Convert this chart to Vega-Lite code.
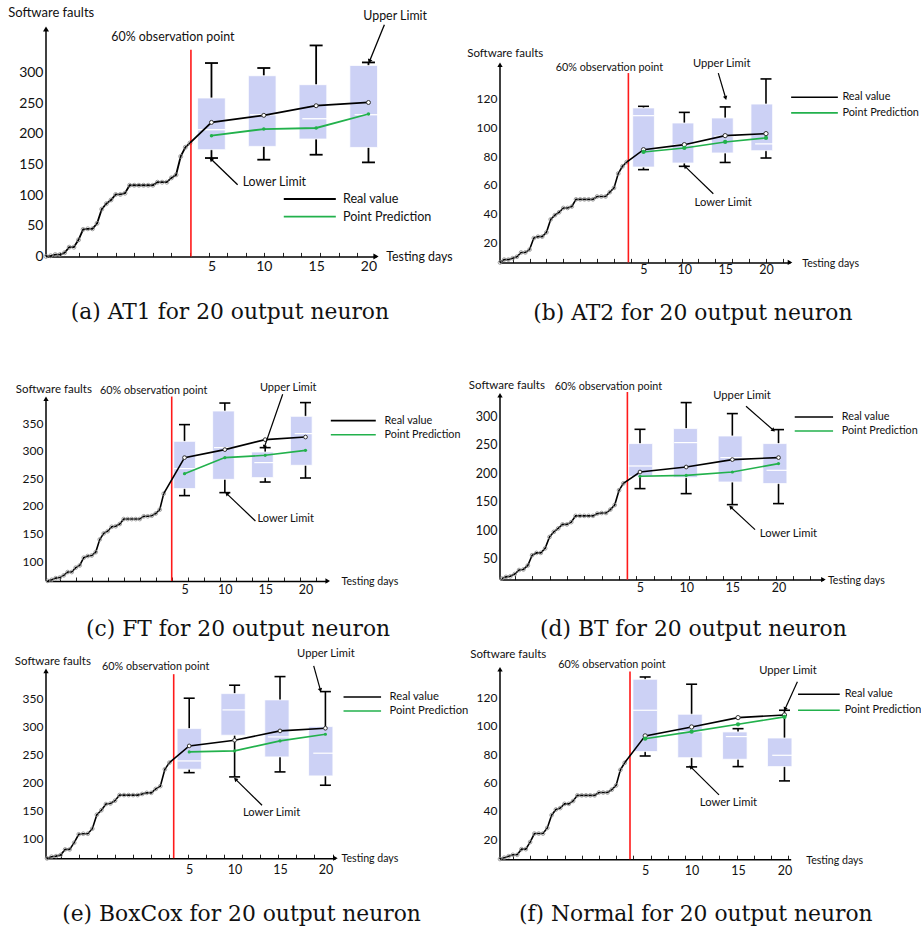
{
  "$schema": "https://vega.github.io/schema/vega-lite/v6.json",
  "background": "white",
  "padding": {"left": 7, "top": 6, "right": 5, "bottom": 5},
  "datasets": {
    "a_hist": [{"obs":1,"faults":0},{"obs":2,"faults":1},{"obs":3,"faults":3},{"obs":4,"faults":3},{"obs":5,"faults":6},{"obs":6,"faults":15},{"obs":7,"faults":15},{"obs":8,"faults":27},{"obs":9,"faults":44},{"obs":10,"faults":45},{"obs":11,"faults":45},{"obs":12,"faults":54},{"obs":13,"faults":77},{"obs":14,"faults":86},{"obs":15,"faults":92},{"obs":16,"faults":101},{"obs":17,"faults":101},{"obs":18,"faults":103},{"obs":19,"faults":116},{"obs":20,"faults":116},{"obs":21,"faults":116},{"obs":22,"faults":116},{"obs":23,"faults":116},{"obs":24,"faults":116},{"obs":25,"faults":121},{"obs":26,"faults":121},{"obs":27,"faults":121},{"obs":28,"faults":128},{"obs":29,"faults":133},{"obs":30,"faults":163},{"obs":31,"faults":178},{"obs":32,"faults":185}],
    "a_fc": [{"day":2.95,"real":185},{"day":5,"real":218.5,"pred":196.8,"lo":160.4,"q1":174,"med":206.6,"q3":258.3,"hi":315.3},{"day":10,"real":230,"pred":207.7,"lo":157.7,"q1":179.4,"med":231,"q3":294.6,"hi":307.2},{"day":15,"real":245.7,"pred":209.4,"lo":165.8,"q1":191.4,"med":224.5,"q3":280,"hi":344},{"day":20,"real":251,"pred":232.2,"lo":153.3,"q1":177.7,"med":231,"q3":311.4,"hi":316.3}],
    "a_note": [{"label":"Upper Limit","tx":22.55,"ty":392.5,"ax":21.52,"ay":377.8,"bx":20.09,"by":318},{"label":"Lower Limit","tx":11.01,"ty":120.7,"ax":7.5,"ay":116.9,"bx":4.95,"by":158.8}],
    "a_cut": [{"obs":32.2,"from":0,"to":337,"label":"60% observation point"}],
    "b_hist": [{"obs":1,"faults":6},{"obs":2,"faults":8},{"obs":3,"faults":8},{"obs":4,"faults":9},{"obs":5,"faults":10},{"obs":6,"faults":13},{"obs":7,"faults":13},{"obs":8,"faults":15},{"obs":9,"faults":23},{"obs":10,"faults":24},{"obs":11,"faults":24},{"obs":12,"faults":27},{"obs":13,"faults":36},{"obs":14,"faults":39},{"obs":15,"faults":41},{"obs":16,"faults":44},{"obs":17,"faults":44},{"obs":18,"faults":45},{"obs":19,"faults":50},{"obs":20,"faults":50},{"obs":21,"faults":50},{"obs":22,"faults":50},{"obs":23,"faults":50},{"obs":24,"faults":52},{"obs":25,"faults":52},{"obs":26,"faults":52},{"obs":27,"faults":55},{"obs":28,"faults":58},{"obs":29,"faults":68},{"obs":30,"faults":73},{"obs":31,"faults":76}],
    "b_fc": [{"day":2.94,"real":76},{"day":5,"real":84.6,"pred":83,"lo":70.7,"q1":72.5,"med":108.3,"q3":113.7,"hi":114.8},{"day":10,"real":88.1,"pred":85.8,"lo":73,"q1":75.3,"med":88,"q3":103.2,"hi":110.6},{"day":15,"real":94.4,"pred":90,"lo":75.7,"q1":82.3,"med":94,"q3":106.7,"hi":114.4},{"day":20,"real":95.8,"pred":92.8,"lo":78.8,"q1":83.9,"med":88.6,"q3":116.4,"hi":133.9}],
    "b_note": [{"label":"Upper Limit","tx":14.57,"ty":144.5,"ax":14.16,"ay":138,"bx":15.06,"by":120.6},{"label":"Lower Limit","tx":14.76,"ty":47.5,"ax":13.55,"ay":53.9,"bx":10.08,"by":73}],
    "b_cut": [{"obs":31.4,"from":6.06,"to":138,"label":"60% observation point"}],
    "c_hist": [{"obs":1,"faults":64},{"obs":2,"faults":66},{"obs":3,"faults":69},{"obs":4,"faults":70},{"obs":5,"faults":74},{"obs":6,"faults":80},{"obs":7,"faults":80},{"obs":8,"faults":88},{"obs":9,"faults":92},{"obs":10,"faults":106},{"obs":11,"faults":109},{"obs":12,"faults":110},{"obs":13,"faults":116},{"obs":14,"faults":139},{"obs":15,"faults":150},{"obs":16,"faults":154},{"obs":17,"faults":162},{"obs":18,"faults":163},{"obs":19,"faults":167},{"obs":20,"faults":176},{"obs":21,"faults":176},{"obs":22,"faults":176},{"obs":23,"faults":176},{"obs":24,"faults":176},{"obs":25,"faults":181},{"obs":26,"faults":181},{"obs":27,"faults":182},{"obs":28,"faults":186},{"obs":29,"faults":193},{"obs":30,"faults":222}],
    "c_fc": [{"day":2.42,"real":222},{"day":5,"real":287.3,"pred":258.3,"lo":218.5,"q1":231.2,"med":267.4,"q3":316.8,"hi":347.1},{"day":10,"real":301.8,"pred":287.3,"lo":223.9,"q1":248,"med":305.4,"q3":371.7,"hi":386.2},{"day":15,"real":319.9,"pred":291.5,"lo":243.1,"q1":251.1,"med":278.3,"q3":297.5,"hi":305.4},{"day":20,"real":324.6,"pred":300.5,"lo":250.4,"q1":273.4,"med":330.8,"q3":362.1,"hi":387}],
    "c_note": [{"label":"Upper Limit","tx":17.85,"ty":414,"ax":17.17,"ay":402,"bx":14.9,"by":306.5},{"label":"Lower Limit","tx":17.55,"ty":175.5,"ax":13.79,"ay":172.5,"bx":10.23,"by":222.1}],
    "c_cut": [{"obs":32,"from":63.8,"to":398,"label":"60% observation point"}],
    "d_hist": [{"obs":1,"faults":15},{"obs":2,"faults":18},{"obs":3,"faults":19},{"obs":4,"faults":23},{"obs":5,"faults":30},{"obs":6,"faults":31},{"obs":7,"faults":38},{"obs":8,"faults":56},{"obs":9,"faults":60},{"obs":10,"faults":60},{"obs":11,"faults":68},{"obs":12,"faults":88},{"obs":13,"faults":97},{"obs":14,"faults":103},{"obs":15,"faults":110},{"obs":16,"faults":110},{"obs":17,"faults":114},{"obs":18,"faults":125},{"obs":19,"faults":125},{"obs":20,"faults":125},{"obs":21,"faults":125},{"obs":22,"faults":125},{"obs":23,"faults":129},{"obs":24,"faults":130},{"obs":25,"faults":130},{"obs":26,"faults":136},{"obs":27,"faults":144},{"obs":28,"faults":170},{"obs":29,"faults":182}],
    "d_fc": [{"day":3.2,"real":182},{"day":5,"real":201.9,"pred":194.4,"lo":172.8,"q1":194.4,"med":212.5,"q3":251.8,"hi":276.8},{"day":10,"real":210.7,"pred":196,"lo":164,"q1":192.1,"med":253.5,"q3":278.1,"hi":323.7},{"day":15,"real":223.7,"pred":201.9,"lo":144.7,"q1":184.4,"med":227.2,"q3":265.1,"hi":304.4},{"day":20,"real":227.2,"pred":216.7,"lo":146.5,"q1":181.6,"med":204.9,"q3":251.8,"hi":276.3}],
    "d_note": [{"label":"Upper Limit","tx":16.05,"ty":334.7,"ax":16.48,"ay":317.2,"bx":19.45,"by":275.1},{"label":"Lower Limit","tx":21.08,"ty":93.9,"ax":17.46,"ay":100.9,"bx":14.82,"by":140.5}],
    "d_cut": [{"obs":29.92,"from":13.2,"to":342.3,"label":"60% observation point"}],
    "e_hist": [{"obs":1,"faults":64},{"obs":2,"faults":67},{"obs":3,"faults":68},{"obs":4,"faults":70},{"obs":5,"faults":80},{"obs":6,"faults":80},{"obs":7,"faults":92},{"obs":8,"faults":107},{"obs":9,"faults":108},{"obs":10,"faults":108},{"obs":11,"faults":117},{"obs":12,"faults":142},{"obs":13,"faults":150},{"obs":14,"faults":161},{"obs":15,"faults":162},{"obs":16,"faults":167},{"obs":17,"faults":177},{"obs":18,"faults":177},{"obs":19,"faults":177},{"obs":20,"faults":177},{"obs":21,"faults":177},{"obs":22,"faults":179},{"obs":23,"faults":181},{"obs":24,"faults":181},{"obs":25,"faults":188},{"obs":26,"faults":193},{"obs":27,"faults":223},{"obs":28,"faults":235}],
    "e_fc": [{"day":2.82,"real":235},{"day":5,"real":264.8,"pred":254.1,"lo":217.1,"q1":223.2,"med":238,"q3":295.7,"hi":350},{"day":10,"real":275,"pred":255.9,"lo":209.5,"q1":283.9,"med":329.1,"q3":358.2,"hi":373.2},{"day":15,"real":291.6,"pred":273.8,"lo":218.4,"q1":245.2,"med":280.9,"q3":347,"hi":388.6},{"day":20,"real":296.4,"pred":285.7,"lo":194.6,"q1":211.3,"med":251.8,"q3":299.3,"hi":361.8}],
    "e_note": [{"label":"Upper Limit","tx":20.05,"ty":428.6,"ax":18.71,"ay":407.7,"bx":19.45,"by":364.3},{"label":"Lower Limit","tx":14.07,"ty":144.6,"ax":13.02,"ay":158.9,"bx":10.09,"by":205.4}],
    "e_cut": [{"obs":28.95,"from":64.3,"to":392.9,"label":"60% observation point"}],
    "f_hist": [{"obs":1,"faults":6},{"obs":2,"faults":7},{"obs":3,"faults":8},{"obs":4,"faults":9},{"obs":5,"faults":9},{"obs":6,"faults":13},{"obs":7,"faults":13},{"obs":8,"faults":18},{"obs":9,"faults":24},{"obs":10,"faults":24},{"obs":11,"faults":24},{"obs":12,"faults":28},{"obs":13,"faults":37},{"obs":14,"faults":41},{"obs":15,"faults":42},{"obs":16,"faults":45},{"obs":17,"faults":45},{"obs":18,"faults":47},{"obs":19,"faults":51},{"obs":20,"faults":51},{"obs":21,"faults":51},{"obs":22,"faults":51},{"obs":23,"faults":51},{"obs":24,"faults":53},{"obs":25,"faults":53},{"obs":26,"faults":53},{"obs":27,"faults":55},{"obs":28,"faults":58},{"obs":29,"faults":69},{"obs":30,"faults":74}],
    "f_fc": [{"day":2.79,"real":74},{"day":5,"real":93,"pred":91,"lo":78.8,"q1":81.9,"med":111.1,"q3":133,"hi":134.6},{"day":10,"real":99.3,"pred":96,"lo":71.1,"q1":77.6,"med":96,"q3":108.3,"hi":129.5},{"day":15,"real":105.9,"pred":101.2,"lo":71.3,"q1":76.5,"med":92.5,"q3":95.8,"hi":98.1},{"day":20,"real":107.8,"pred":106.4,"lo":61.2,"q1":71.3,"med":79.3,"q3":91.5,"hi":111.1}],
    "f_note": [{"label":"Upper Limit","tx":20.38,"ty":138.9,"ax":21.39,"ay":131.3,"bx":20.05,"by":111.8},{"label":"Lower Limit","tx":13.97,"ty":45.4,"ax":12.95,"ay":51.3,"bx":9.9,"by":71.1}],
    "f_cut": [{"obs":31.23,"from":5.9,"to":138.4,"label":"60% observation point"}]
  },
  "columns": 2,
  "spacing": {"row": 87.6, "column": 124},
  "bounds": "flush",
  "align": "each",
  "resolve": {"scale": {"x": "independent", "y": "independent", "color": "independent"}, "axis": {"x": "independent", "y": "independent"}, "legend": {"color": "independent"}},
  "concat": [
    {
      "width": 330, "height": 227.4,
      "title": {"text": "(a) AT1 for 20 output neuron", "orient": "bottom", "offset": 29, "frame": "bounds"},
      "resolve": {"scale": {"x": "independent"}, "axis": {"x": "independent", "y": "independent"}},
      "layer": [
        {"data": {"values": [{}]}, "mark": {"type": "rule", "color": "#000000", "strokeWidth": 1.5},
         "encoding": {"x": {"datum": 1, "type": "quantitative", "scale": {"domain": [1, 72.04], "nice": false, "zero": false}, "axis": null},
                      "y": {"datum": 0, "type": "quantitative", "scale": {"domain": [0, 370.8], "nice": false, "zero": false}, "axis": null},
                      "y2": {"datum": 370.8}}},
        {"data": {"name": "a_hist"}, "mark": {"type": "line", "color": "#000000", "strokeWidth": 1.8},
         "encoding": {"x": {"field": "obs", "type": "quantitative", "scale": {"domain": [1, 72.04], "nice": false, "zero": false},
                            "axis": {"orient": "bottom", "values": [4,8,12,16,20,24,28,32,36,40,44,48,52,56,60,64,68], "labels": false, "ticks": true, "tickSize": -4, "title": null}},
                      "y": {"field": "faults", "type": "quantitative", "scale": {"domain": [0, 370.8], "nice": false, "zero": false},
                            "axis": {"orient": "left", "values": [0,50,100,150,200,250,300], "domain": false, "labelFontSize": 14, "title": "Software faults", "titleFontSize": 13, "titleX": -38.3, "titleY": -16.3}}}},
        {"data": {"name": "a_hist"}, "mark": {"type": "point", "shape": "circle", "size": 16, "filled": false, "stroke": "#8a8a8a", "strokeWidth": 0.8, "opacity": 1},
         "encoding": {"x": {"field": "obs", "type": "quantitative", "scale": {"domain": [1, 72.04], "nice": false, "zero": false}, "axis": null},
                      "y": {"field": "faults", "type": "quantitative", "scale": {"domain": [0, 370.8], "nice": false, "zero": false}, "axis": null}}},
        {"data": {"name": "a_cut"}, "mark": {"type": "rule", "color": "#ff1a1a", "strokeWidth": 1.6},
         "encoding": {"x": {"field": "obs", "type": "quantitative", "scale": {"domain": [1, 72.04], "nice": false, "zero": false}, "axis": null},
                      "y": {"field": "to", "type": "quantitative", "scale": {"domain": [0, 370.8], "nice": false, "zero": false}, "axis": null},
                      "y2": {"field": "from"}}},
        {"data": {"name": "a_cut"}, "mark": {"type": "text", "dx": -18, "dy": -13, "fontSize": 12.4},
         "encoding": {"x": {"field": "obs", "type": "quantitative", "scale": {"domain": [1, 72.04], "nice": false, "zero": false}, "axis": null},
                      "y": {"field": "to", "type": "quantitative", "scale": {"domain": [0, 370.8], "nice": false, "zero": false}, "axis": null},
                      "text": {"field": "label"}}},
        {"data": {"values": [{}]}, "mark": {"type": "point", "shape": "triangle-up", "filled": true, "color": "#000000", "size": 36, "opacity": 1},
         "encoding": {"x": {"datum": 1, "type": "quantitative", "scale": {"domain": [1, 72.04], "nice": false, "zero": false}, "axis": null},
                      "y": {"datum": 370.8, "type": "quantitative", "scale": {"domain": [0, 370.8], "nice": false, "zero": false}, "axis": null}}},
        {"data": {"values": [{}]}, "mark": {"type": "point", "shape": "triangle-right", "filled": true, "color": "#000000", "size": 36, "opacity": 1},
         "encoding": {"x": {"datum": 72.04, "type": "quantitative", "scale": {"domain": [1, 72.04], "nice": false, "zero": false}, "axis": null},
                      "y": {"datum": 0, "type": "quantitative", "scale": {"domain": [0, 370.8], "nice": false, "zero": false}, "axis": null}}},
        {"data": {"name": "a_fc"}, "transform": [{"filter": "isValid(datum.q1)"}], "mark": {"type": "rule", "color": "#000000", "strokeWidth": 1.8},
         "encoding": {"x": {"field": "day", "type": "quantitative", "scale": {"domain": [-10.81, 20.72], "nice": false, "zero": false},
                            "axis": {"orient": "bottom", "values": [5,10,15,20], "domain": false, "ticks": false, "labelFontSize": 14, "labelPadding": 3, "title": "Testing days", "titleFontSize": 12.4, "titleX": 339.7, "titleY": 0}},
                      "y": {"field": "lo", "type": "quantitative", "scale": {"domain": [0, 370.8], "nice": false, "zero": false}, "axis": null},
                      "y2": {"field": "hi"}}},
        {"data": {"name": "a_fc"}, "transform": [{"filter": "isValid(datum.q1)"}], "mark": {"type": "tick", "orient": "horizontal", "color": "#000000", "thickness": 1.8, "size": 13, "opacity": 1},
         "encoding": {"x": {"field": "day", "type": "quantitative", "scale": {"domain": [-10.81, 20.72], "nice": false, "zero": false}, "axis": null},
                      "y": {"field": "hi", "type": "quantitative", "scale": {"domain": [0, 370.8], "nice": false, "zero": false}, "axis": null}}},
        {"data": {"name": "a_fc"}, "transform": [{"filter": "isValid(datum.q1)"}], "mark": {"type": "tick", "orient": "horizontal", "color": "#000000", "thickness": 1.8, "size": 13, "opacity": 1},
         "encoding": {"x": {"field": "day", "type": "quantitative", "scale": {"domain": [-10.81, 20.72], "nice": false, "zero": false}, "axis": null},
                      "y": {"field": "lo", "type": "quantitative", "scale": {"domain": [0, 370.8], "nice": false, "zero": false}, "axis": null}}},
        {"data": {"name": "a_fc"}, "transform": [{"filter": "isValid(datum.q1)"}], "mark": {"type": "bar", "size": 27.7, "color": "#ccd1f5", "stroke": "#ffffff", "strokeWidth": 0.8, "opacity": 1},
         "encoding": {"x": {"field": "day", "type": "quantitative", "scale": {"domain": [-10.81, 20.72], "nice": false, "zero": false}, "axis": null},
                      "y": {"field": "q1", "type": "quantitative", "scale": {"domain": [0, 370.8], "nice": false, "zero": false}, "axis": null},
                      "y2": {"field": "q3"}}},
        {"data": {"name": "a_fc"}, "transform": [{"filter": "isValid(datum.q1)"}], "mark": {"type": "tick", "orient": "horizontal", "color": "#ffffff", "thickness": 1.3, "size": 27.7, "opacity": 1},
         "encoding": {"x": {"field": "day", "type": "quantitative", "scale": {"domain": [-10.81, 20.72], "nice": false, "zero": false}, "axis": null},
                      "y": {"field": "med", "type": "quantitative", "scale": {"domain": [0, 370.8], "nice": false, "zero": false}, "axis": null}}},
        {"data": {"name": "a_fc"}, "mark": {"type": "line", "strokeWidth": 1.8},
         "encoding": {"x": {"field": "day", "type": "quantitative", "scale": {"domain": [-10.81, 20.72], "nice": false, "zero": false}, "axis": null},
                      "y": {"field": "real", "type": "quantitative", "scale": {"domain": [0, 370.8], "nice": false, "zero": false}, "axis": null},
                      "color": {"datum": "Real value", "scale": {"domain": ["Real value", "Point Prediction"], "range": ["#000000", "#22b14c"]},
                                "legend": {"orient": "none", "legendX": 255.3, "legendY": 161.5, "title": null, "symbolType": "M-3.5,0H3.5", "symbolSize": 221, "symbolStrokeWidth": 1.8, "labelFontSize": 12.6, "labelOffset": 24.6, "rowPadding": 1.7}}}},
        {"data": {"name": "a_fc"}, "transform": [{"filter": "isValid(datum.q1)"}], "mark": {"type": "line", "strokeWidth": 1.8},
         "encoding": {"x": {"field": "day", "type": "quantitative", "scale": {"domain": [-10.81, 20.72], "nice": false, "zero": false}, "axis": null},
                      "y": {"field": "pred", "type": "quantitative", "scale": {"domain": [0, 370.8], "nice": false, "zero": false}, "axis": null},
                      "color": {"datum": "Point Prediction", "scale": {"domain": ["Real value", "Point Prediction"], "range": ["#000000", "#22b14c"]},
                                "legend": {"orient": "none", "legendX": 255.3, "legendY": 161.5, "title": null, "symbolType": "M-3.5,0H3.5", "symbolSize": 221, "symbolStrokeWidth": 1.8, "labelFontSize": 12.6, "labelOffset": 24.6, "rowPadding": 1.7}}}},
        {"data": {"name": "a_fc"}, "transform": [{"filter": "isValid(datum.q1)"}], "mark": {"type": "point", "filled": true, "fill": "#ffffff", "stroke": "#333333", "strokeWidth": 1, "size": 16, "opacity": 1},
         "encoding": {"x": {"field": "day", "type": "quantitative", "scale": {"domain": [-10.81, 20.72], "nice": false, "zero": false}, "axis": null},
                      "y": {"field": "real", "type": "quantitative", "scale": {"domain": [0, 370.8], "nice": false, "zero": false}, "axis": null}}},
        {"data": {"name": "a_fc"}, "transform": [{"filter": "isValid(datum.q1)"}], "mark": {"type": "point", "filled": true, "color": "#22b14c", "size": 12, "opacity": 1},
         "encoding": {"x": {"field": "day", "type": "quantitative", "scale": {"domain": [-10.81, 20.72], "nice": false, "zero": false}, "axis": null},
                      "y": {"field": "pred", "type": "quantitative", "scale": {"domain": [0, 370.8], "nice": false, "zero": false}, "axis": null}}},
        {"data": {"name": "a_note"}, "mark": {"type": "rule", "color": "#000000", "strokeWidth": 1.3},
         "encoding": {"x": {"field": "ax", "type": "quantitative", "scale": {"domain": [-10.81, 20.72], "nice": false, "zero": false}, "axis": null},
                      "y": {"field": "ay", "type": "quantitative", "scale": {"domain": [0, 370.8], "nice": false, "zero": false}, "axis": null},
                      "x2": {"field": "bx"}, "y2": {"field": "by"}}},
        {"data": {"name": "a_note"}, "transform": [{"filter": "datum.label === 'Upper Limit'"}], "mark": {"type": "point", "shape": "triangle-up", "angle": 202, "filled": true, "color": "#000000", "size": 24, "opacity": 1},
         "encoding": {"x": {"field": "bx", "type": "quantitative", "scale": {"domain": [-10.81, 20.72], "nice": false, "zero": false}, "axis": null},
                      "y": {"field": "by", "type": "quantitative", "scale": {"domain": [0, 370.8], "nice": false, "zero": false}, "axis": null}}},
        {"data": {"name": "a_note"}, "transform": [{"filter": "datum.label === 'Lower Limit'"}], "mark": {"type": "point", "shape": "triangle-up", "angle": 314, "filled": true, "color": "#000000", "size": 24, "opacity": 1},
         "encoding": {"x": {"field": "bx", "type": "quantitative", "scale": {"domain": [-10.81, 20.72], "nice": false, "zero": false}, "axis": null},
                      "y": {"field": "by", "type": "quantitative", "scale": {"domain": [0, 370.8], "nice": false, "zero": false}, "axis": null}}},
        {"data": {"name": "a_note"}, "mark": {"type": "text", "fontSize": 12.4},
         "encoding": {"x": {"field": "tx", "type": "quantitative", "scale": {"domain": [-10.81, 20.72], "nice": false, "zero": false}, "axis": null},
                      "y": {"field": "ty", "type": "quantitative", "scale": {"domain": [0, 370.8], "nice": false, "zero": false}, "axis": null},
                      "text": {"field": "label"}}}
      ]
    },
    {
      "width": 290, "height": 233.4,
      "title": {"text": "(b) AT2 for 20 output neuron", "orient": "bottom", "offset": 27, "frame": "bounds"},
      "resolve": {"scale": {"x": "independent"}, "axis": {"x": "independent", "y": "independent"}},
      "layer": [
        {"data": {"values": [{}]}, "mark": {"type": "rule", "color": "#000000", "strokeWidth": 1.5},
         "encoding": {"x": {"datum": 1, "type": "quantitative", "scale": {"domain": [1, 69.67], "nice": false, "zero": false}, "axis": null},
                      "y": {"datum": 6.06, "type": "quantitative", "scale": {"domain": [6.06, 168.7], "nice": false, "zero": false}, "axis": null},
                      "y2": {"datum": 143.8}}},
        {"data": {"name": "b_hist"}, "mark": {"type": "line", "color": "#000000", "strokeWidth": 1.6},
         "encoding": {"x": {"field": "obs", "type": "quantitative", "scale": {"domain": [1, 69.67], "nice": false, "zero": false},
                            "axis": {"orient": "bottom", "values": [4,8,12,16,20,24,28,32,36,40,44,48,52,56,60,64,68], "labels": false, "ticks": true, "tickSize": -4, "title": null}},
                      "y": {"field": "faults", "type": "quantitative", "scale": {"domain": [6.06, 168.7], "nice": false, "zero": false},
                            "axis": {"orient": "left", "values": [20,40,60,80,100,120], "domain": false, "labelFontSize": 12, "title": "Software faults", "titleFontSize": 11.5, "titleX": -33.3, "titleY": 24}}}},
        {"data": {"name": "b_hist"}, "mark": {"type": "point", "shape": "circle", "size": 14, "filled": false, "stroke": "#8a8a8a", "strokeWidth": 0.8, "opacity": 1},
         "encoding": {"x": {"field": "obs", "type": "quantitative", "scale": {"domain": [1, 69.67], "nice": false, "zero": false}, "axis": null},
                      "y": {"field": "faults", "type": "quantitative", "scale": {"domain": [6.06, 168.7], "nice": false, "zero": false}, "axis": null}}},
        {"data": {"name": "b_cut"}, "mark": {"type": "rule", "color": "#ff1a1a", "strokeWidth": 1.6},
         "encoding": {"x": {"field": "obs", "type": "quantitative", "scale": {"domain": [1, 69.67], "nice": false, "zero": false}, "axis": null},
                      "y": {"field": "to", "type": "quantitative", "scale": {"domain": [6.06, 168.7], "nice": false, "zero": false}, "axis": null},
                      "y2": {"field": "from"}}},
        {"data": {"name": "b_cut"}, "mark": {"type": "text", "dx": -19, "dy": -5, "fontSize": 10.8},
         "encoding": {"x": {"field": "obs", "type": "quantitative", "scale": {"domain": [1, 69.67], "nice": false, "zero": false}, "axis": null},
                      "y": {"field": "to", "type": "quantitative", "scale": {"domain": [6.06, 168.7], "nice": false, "zero": false}, "axis": null},
                      "text": {"field": "label"}}},
        {"data": {"values": [{}]}, "mark": {"type": "point", "shape": "triangle-up", "filled": true, "color": "#000000", "size": 28, "opacity": 1},
         "encoding": {"x": {"datum": 1, "type": "quantitative", "scale": {"domain": [1, 69.67], "nice": false, "zero": false}, "axis": null},
                      "y": {"datum": 143.8, "type": "quantitative", "scale": {"domain": [6.06, 168.7], "nice": false, "zero": false}, "axis": null}}},
        {"data": {"values": [{}]}, "mark": {"type": "point", "shape": "triangle-right", "filled": true, "color": "#000000", "size": 28, "opacity": 1},
         "encoding": {"x": {"datum": 69.67, "type": "quantitative", "scale": {"domain": [1, 69.67], "nice": false, "zero": false}, "axis": null},
                      "y": {"datum": 6.06, "type": "quantitative", "scale": {"domain": [6.06, 168.7], "nice": false, "zero": false}, "axis": null}}},
        {"data": {"name": "b_fc"}, "transform": [{"filter": "isValid(datum.q1)"}], "mark": {"type": "rule", "color": "#000000", "strokeWidth": 1.6},
         "encoding": {"x": {"field": "day", "type": "quantitative", "scale": {"domain": [-12.57, 22.94], "nice": false, "zero": false},
                            "axis": {"orient": "bottom", "values": [5,10,15,20], "domain": false, "ticks": false, "labelFontSize": 12.5, "labelPadding": 1, "title": "Testing days", "titleFontSize": 10.6, "titleX": 301.7, "titleY": 1.3}},
                      "y": {"field": "lo", "type": "quantitative", "scale": {"domain": [6.06, 168.7], "nice": false, "zero": false}, "axis": null},
                      "y2": {"field": "hi"}}},
        {"data": {"name": "b_fc"}, "transform": [{"filter": "isValid(datum.q1)"}], "mark": {"type": "tick", "orient": "horizontal", "color": "#000000", "thickness": 1.6, "size": 11, "opacity": 1},
         "encoding": {"x": {"field": "day", "type": "quantitative", "scale": {"domain": [-12.57, 22.94], "nice": false, "zero": false}, "axis": null},
                      "y": {"field": "hi", "type": "quantitative", "scale": {"domain": [6.06, 168.7], "nice": false, "zero": false}, "axis": null}}},
        {"data": {"name": "b_fc"}, "transform": [{"filter": "isValid(datum.q1)"}], "mark": {"type": "tick", "orient": "horizontal", "color": "#000000", "thickness": 1.6, "size": 11, "opacity": 1},
         "encoding": {"x": {"field": "day", "type": "quantitative", "scale": {"domain": [-12.57, 22.94], "nice": false, "zero": false}, "axis": null},
                      "y": {"field": "lo", "type": "quantitative", "scale": {"domain": [6.06, 168.7], "nice": false, "zero": false}, "axis": null}}},
        {"data": {"name": "b_fc"}, "transform": [{"filter": "isValid(datum.q1)"}], "mark": {"type": "bar", "size": 21.7, "color": "#ccd1f5", "stroke": "#ffffff", "strokeWidth": 0.8, "opacity": 1},
         "encoding": {"x": {"field": "day", "type": "quantitative", "scale": {"domain": [-12.57, 22.94], "nice": false, "zero": false}, "axis": null},
                      "y": {"field": "q1", "type": "quantitative", "scale": {"domain": [6.06, 168.7], "nice": false, "zero": false}, "axis": null},
                      "y2": {"field": "q3"}}},
        {"data": {"name": "b_fc"}, "transform": [{"filter": "isValid(datum.q1)"}], "mark": {"type": "tick", "orient": "horizontal", "color": "#ffffff", "thickness": 1.2, "size": 21.7, "opacity": 1},
         "encoding": {"x": {"field": "day", "type": "quantitative", "scale": {"domain": [-12.57, 22.94], "nice": false, "zero": false}, "axis": null},
                      "y": {"field": "med", "type": "quantitative", "scale": {"domain": [6.06, 168.7], "nice": false, "zero": false}, "axis": null}}},
        {"data": {"name": "b_fc"}, "mark": {"type": "line", "strokeWidth": 1.6},
         "encoding": {"x": {"field": "day", "type": "quantitative", "scale": {"domain": [-12.57, 22.94], "nice": false, "zero": false}, "axis": null},
                      "y": {"field": "real", "type": "quantitative", "scale": {"domain": [6.06, 168.7], "nice": false, "zero": false}, "axis": null},
                      "color": {"datum": "Real value", "scale": {"domain": ["Real value", "Point Prediction"], "range": ["#000000", "#22b14c"]},
                                "legend": {"orient": "none", "legendX": 307, "legendY": 60.7, "title": null, "symbolType": "M-3.5,0H3.5", "symbolSize": 178, "symbolStrokeWidth": 1.6, "labelFontSize": 10.9, "labelOffset": 20.4, "rowPadding": 2.7}}}},
        {"data": {"name": "b_fc"}, "transform": [{"filter": "isValid(datum.q1)"}], "mark": {"type": "line", "strokeWidth": 1.6},
         "encoding": {"x": {"field": "day", "type": "quantitative", "scale": {"domain": [-12.57, 22.94], "nice": false, "zero": false}, "axis": null},
                      "y": {"field": "pred", "type": "quantitative", "scale": {"domain": [6.06, 168.7], "nice": false, "zero": false}, "axis": null},
                      "color": {"datum": "Point Prediction", "scale": {"domain": ["Real value", "Point Prediction"], "range": ["#000000", "#22b14c"]},
                                "legend": {"orient": "none", "legendX": 307, "legendY": 60.7, "title": null, "symbolType": "M-3.5,0H3.5", "symbolSize": 178, "symbolStrokeWidth": 1.6, "labelFontSize": 10.9, "labelOffset": 20.4, "rowPadding": 2.7}}}},
        {"data": {"name": "b_fc"}, "transform": [{"filter": "isValid(datum.q1)"}], "mark": {"type": "point", "filled": true, "fill": "#ffffff", "stroke": "#333333", "strokeWidth": 1, "size": 18, "opacity": 1},
         "encoding": {"x": {"field": "day", "type": "quantitative", "scale": {"domain": [-12.57, 22.94], "nice": false, "zero": false}, "axis": null},
                      "y": {"field": "real", "type": "quantitative", "scale": {"domain": [6.06, 168.7], "nice": false, "zero": false}, "axis": null}}},
        {"data": {"name": "b_fc"}, "transform": [{"filter": "isValid(datum.q1)"}], "mark": {"type": "point", "filled": true, "color": "#22b14c", "size": 18, "opacity": 1},
         "encoding": {"x": {"field": "day", "type": "quantitative", "scale": {"domain": [-12.57, 22.94], "nice": false, "zero": false}, "axis": null},
                      "y": {"field": "pred", "type": "quantitative", "scale": {"domain": [6.06, 168.7], "nice": false, "zero": false}, "axis": null}}},
        {"data": {"name": "b_note"}, "mark": {"type": "rule", "color": "#000000", "strokeWidth": 1.2},
         "encoding": {"x": {"field": "ax", "type": "quantitative", "scale": {"domain": [-12.57, 22.94], "nice": false, "zero": false}, "axis": null},
                      "y": {"field": "ay", "type": "quantitative", "scale": {"domain": [6.06, 168.7], "nice": false, "zero": false}, "axis": null},
                      "x2": {"field": "bx"}, "y2": {"field": "by"}}},
        {"data": {"name": "b_note"}, "transform": [{"filter": "datum.label === 'Upper Limit'"}], "mark": {"type": "point", "shape": "triangle-up", "angle": 163, "filled": true, "color": "#000000", "size": 20, "opacity": 1},
         "encoding": {"x": {"field": "bx", "type": "quantitative", "scale": {"domain": [-12.57, 22.94], "nice": false, "zero": false}, "axis": null},
                      "y": {"field": "by", "type": "quantitative", "scale": {"domain": [6.06, 168.7], "nice": false, "zero": false}, "axis": null}}},
        {"data": {"name": "b_note"}, "transform": [{"filter": "datum.label === 'Lower Limit'"}], "mark": {"type": "point", "shape": "triangle-up", "angle": 314, "filled": true, "color": "#000000", "size": 20, "opacity": 1},
         "encoding": {"x": {"field": "bx", "type": "quantitative", "scale": {"domain": [-12.57, 22.94], "nice": false, "zero": false}, "axis": null},
                      "y": {"field": "by", "type": "quantitative", "scale": {"domain": [6.06, 168.7], "nice": false, "zero": false}, "axis": null}}},
        {"data": {"name": "b_note"}, "mark": {"type": "text", "fontSize": 11.2},
         "encoding": {"x": {"field": "tx", "type": "quantitative", "scale": {"domain": [-12.57, 22.94], "nice": false, "zero": false}, "axis": null},
                      "y": {"field": "ty", "type": "quantitative", "scale": {"domain": [6.06, 168.7], "nice": false, "zero": false}, "axis": null},
                      "text": {"field": "label"}}}
      ]
    },
    {
      "width": 281.7, "height": 230.4,
      "title": {"text": "(c) FT for 20 output neuron", "orient": "bottom", "offset": 23, "frame": "bounds"},
      "resolve": {"scale": {"x": "independent"}, "axis": {"x": "independent", "y": "independent"}},
      "layer": [
        {"data": {"values": [{}]}, "mark": {"type": "rule", "color": "#000000", "strokeWidth": 1.5},
         "encoding": {"x": {"datum": 0.57, "type": "quantitative", "scale": {"domain": [0.57, 71], "nice": false, "zero": false}, "axis": null},
                      "y": {"datum": 63.8, "type": "quantitative", "scale": {"domain": [63.8, 481.2], "nice": false, "zero": false}, "axis": null},
                      "y2": {"datum": 394}}},
        {"data": {"name": "c_hist"}, "mark": {"type": "line", "color": "#000000", "strokeWidth": 1.6},
         "encoding": {"x": {"field": "obs", "type": "quantitative", "scale": {"domain": [0.57, 71], "nice": false, "zero": false},
                            "axis": {"orient": "bottom", "values": [4,8,12,16,20,24,28,32,36,40,44,48,52,56,60,64,68], "labels": false, "ticks": true, "tickSize": -4, "title": null}},
                      "y": {"field": "faults", "type": "quantitative", "scale": {"domain": [63.8, 481.2], "nice": false, "zero": false},
                            "axis": {"orient": "left", "values": [100,150,200,250,300,350], "domain": false, "labelFontSize": 12, "title": "Software faults", "titleFontSize": 11.5, "titleX": -30.7, "titleY": 38.7}}}},
        {"data": {"name": "c_hist"}, "mark": {"type": "point", "shape": "circle", "size": 14, "filled": false, "stroke": "#8a8a8a", "strokeWidth": 0.8, "opacity": 1},
         "encoding": {"x": {"field": "obs", "type": "quantitative", "scale": {"domain": [0.57, 71], "nice": false, "zero": false}, "axis": null},
                      "y": {"field": "faults", "type": "quantitative", "scale": {"domain": [63.8, 481.2], "nice": false, "zero": false}, "axis": null}}},
        {"data": {"name": "c_cut"}, "mark": {"type": "rule", "color": "#ff1a1a", "strokeWidth": 1.6},
         "encoding": {"x": {"field": "obs", "type": "quantitative", "scale": {"domain": [0.57, 71], "nice": false, "zero": false}, "axis": null},
                      "y": {"field": "to", "type": "quantitative", "scale": {"domain": [63.8, 481.2], "nice": false, "zero": false}, "axis": null},
                      "y2": {"field": "from"}}},
        {"data": {"name": "c_cut"}, "mark": {"type": "text", "dx": -18, "dy": -6, "fontSize": 10.8},
         "encoding": {"x": {"field": "obs", "type": "quantitative", "scale": {"domain": [0.57, 71], "nice": false, "zero": false}, "axis": null},
                      "y": {"field": "to", "type": "quantitative", "scale": {"domain": [63.8, 481.2], "nice": false, "zero": false}, "axis": null},
                      "text": {"field": "label"}}},
        {"data": {"values": [{}]}, "mark": {"type": "point", "shape": "triangle-up", "filled": true, "color": "#000000", "size": 28, "opacity": 1},
         "encoding": {"x": {"datum": 0.57, "type": "quantitative", "scale": {"domain": [0.57, 71], "nice": false, "zero": false}, "axis": null},
                      "y": {"datum": 394, "type": "quantitative", "scale": {"domain": [63.8, 481.2], "nice": false, "zero": false}, "axis": null}}},
        {"data": {"values": [{}]}, "mark": {"type": "point", "shape": "triangle-right", "filled": true, "color": "#000000", "size": 28, "opacity": 1},
         "encoding": {"x": {"datum": 71, "type": "quantitative", "scale": {"domain": [0.57, 71], "nice": false, "zero": false}, "axis": null},
                      "y": {"datum": 63.8, "type": "quantitative", "scale": {"domain": [63.8, 481.2], "nice": false, "zero": false}, "axis": null}}},
        {"data": {"name": "c_fc"}, "transform": [{"filter": "isValid(datum.q1)"}], "mark": {"type": "rule", "color": "#000000", "strokeWidth": 1.6},
         "encoding": {"x": {"field": "day", "type": "quantitative", "scale": {"domain": [-12.17, 22.75], "nice": false, "zero": false},
                            "axis": {"orient": "bottom", "values": [5,10,15,20], "domain": false, "ticks": false, "labelFontSize": 12.5, "labelPadding": 2, "title": "Testing days", "titleFontSize": 10.6, "titleX": 295, "titleY": 0}},
                      "y": {"field": "lo", "type": "quantitative", "scale": {"domain": [63.8, 481.2], "nice": false, "zero": false}, "axis": null},
                      "y2": {"field": "hi"}}},
        {"data": {"name": "c_fc"}, "transform": [{"filter": "isValid(datum.q1)"}], "mark": {"type": "tick", "orient": "horizontal", "color": "#000000", "thickness": 1.6, "size": 11, "opacity": 1},
         "encoding": {"x": {"field": "day", "type": "quantitative", "scale": {"domain": [-12.17, 22.75], "nice": false, "zero": false}, "axis": null},
                      "y": {"field": "hi", "type": "quantitative", "scale": {"domain": [63.8, 481.2], "nice": false, "zero": false}, "axis": null}}},
        {"data": {"name": "c_fc"}, "transform": [{"filter": "isValid(datum.q1)"}], "mark": {"type": "tick", "orient": "horizontal", "color": "#000000", "thickness": 1.6, "size": 11, "opacity": 1},
         "encoding": {"x": {"field": "day", "type": "quantitative", "scale": {"domain": [-12.17, 22.75], "nice": false, "zero": false}, "axis": null},
                      "y": {"field": "lo", "type": "quantitative", "scale": {"domain": [63.8, 481.2], "nice": false, "zero": false}, "axis": null}}},
        {"data": {"name": "c_fc"}, "transform": [{"filter": "isValid(datum.q1)"}], "mark": {"type": "bar", "size": 21.7, "color": "#ccd1f5", "stroke": "#ffffff", "strokeWidth": 0.8, "opacity": 1},
         "encoding": {"x": {"field": "day", "type": "quantitative", "scale": {"domain": [-12.17, 22.75], "nice": false, "zero": false}, "axis": null},
                      "y": {"field": "q1", "type": "quantitative", "scale": {"domain": [63.8, 481.2], "nice": false, "zero": false}, "axis": null},
                      "y2": {"field": "q3"}}},
        {"data": {"name": "c_fc"}, "transform": [{"filter": "isValid(datum.q1)"}], "mark": {"type": "tick", "orient": "horizontal", "color": "#ffffff", "thickness": 1.2, "size": 21.7, "opacity": 1},
         "encoding": {"x": {"field": "day", "type": "quantitative", "scale": {"domain": [-12.17, 22.75], "nice": false, "zero": false}, "axis": null},
                      "y": {"field": "med", "type": "quantitative", "scale": {"domain": [63.8, 481.2], "nice": false, "zero": false}, "axis": null}}},
        {"data": {"name": "c_fc"}, "mark": {"type": "line", "strokeWidth": 1.6},
         "encoding": {"x": {"field": "day", "type": "quantitative", "scale": {"domain": [-12.17, 22.75], "nice": false, "zero": false}, "axis": null},
                      "y": {"field": "real", "type": "quantitative", "scale": {"domain": [63.8, 481.2], "nice": false, "zero": false}, "axis": null},
                      "color": {"datum": "Real value", "scale": {"domain": ["Real value", "Point Prediction"], "range": ["#000000", "#22b14c"]},
                                "legend": {"orient": "none", "legendX": 299.8, "legendY": 62.5, "title": null, "symbolType": "M-3.5,0H3.5", "symbolSize": 165, "symbolStrokeWidth": 1.6, "labelFontSize": 10.8, "labelOffset": 23.8, "rowPadding": 1.1}}}},
        {"data": {"name": "c_fc"}, "transform": [{"filter": "isValid(datum.q1)"}], "mark": {"type": "line", "strokeWidth": 1.6},
         "encoding": {"x": {"field": "day", "type": "quantitative", "scale": {"domain": [-12.17, 22.75], "nice": false, "zero": false}, "axis": null},
                      "y": {"field": "pred", "type": "quantitative", "scale": {"domain": [63.8, 481.2], "nice": false, "zero": false}, "axis": null},
                      "color": {"datum": "Point Prediction", "scale": {"domain": ["Real value", "Point Prediction"], "range": ["#000000", "#22b14c"]},
                                "legend": {"orient": "none", "legendX": 299.8, "legendY": 62.5, "title": null, "symbolType": "M-3.5,0H3.5", "symbolSize": 165, "symbolStrokeWidth": 1.6, "labelFontSize": 10.8, "labelOffset": 23.8, "rowPadding": 1.1}}}},
        {"data": {"name": "c_fc"}, "transform": [{"filter": "isValid(datum.q1)"}], "mark": {"type": "point", "filled": true, "fill": "#ffffff", "stroke": "#333333", "strokeWidth": 1, "size": 14, "opacity": 1},
         "encoding": {"x": {"field": "day", "type": "quantitative", "scale": {"domain": [-12.17, 22.75], "nice": false, "zero": false}, "axis": null},
                      "y": {"field": "real", "type": "quantitative", "scale": {"domain": [63.8, 481.2], "nice": false, "zero": false}, "axis": null}}},
        {"data": {"name": "c_fc"}, "transform": [{"filter": "isValid(datum.q1)"}], "mark": {"type": "point", "filled": true, "color": "#22b14c", "size": 10, "opacity": 1},
         "encoding": {"x": {"field": "day", "type": "quantitative", "scale": {"domain": [-12.17, 22.75], "nice": false, "zero": false}, "axis": null},
                      "y": {"field": "pred", "type": "quantitative", "scale": {"domain": [63.8, 481.2], "nice": false, "zero": false}, "axis": null}}},
        {"data": {"name": "c_note"}, "mark": {"type": "rule", "color": "#000000", "strokeWidth": 1.2},
         "encoding": {"x": {"field": "ax", "type": "quantitative", "scale": {"domain": [-12.17, 22.75], "nice": false, "zero": false}, "axis": null},
                      "y": {"field": "ay", "type": "quantitative", "scale": {"domain": [63.8, 481.2], "nice": false, "zero": false}, "axis": null},
                      "x2": {"field": "bx"}, "y2": {"field": "by"}}},
        {"data": {"name": "c_note"}, "transform": [{"filter": "datum.label === 'Upper Limit'"}], "mark": {"type": "point", "shape": "triangle-up", "angle": 199, "filled": true, "color": "#000000", "size": 20, "opacity": 1},
         "encoding": {"x": {"field": "bx", "type": "quantitative", "scale": {"domain": [-12.17, 22.75], "nice": false, "zero": false}, "axis": null},
                      "y": {"field": "by", "type": "quantitative", "scale": {"domain": [63.8, 481.2], "nice": false, "zero": false}, "axis": null}}},
        {"data": {"name": "c_note"}, "transform": [{"filter": "datum.label === 'Lower Limit'"}], "mark": {"type": "point", "shape": "triangle-up", "angle": 314, "filled": true, "color": "#000000", "size": 20, "opacity": 1},
         "encoding": {"x": {"field": "bx", "type": "quantitative", "scale": {"domain": [-12.17, 22.75], "nice": false, "zero": false}, "axis": null},
                      "y": {"field": "by", "type": "quantitative", "scale": {"domain": [63.8, 481.2], "nice": false, "zero": false}, "axis": null}}},
        {"data": {"name": "c_note"}, "mark": {"type": "text", "fontSize": 11},
         "encoding": {"x": {"field": "tx", "type": "quantitative", "scale": {"domain": [-12.17, 22.75], "nice": false, "zero": false}, "axis": null},
                      "y": {"field": "ty", "type": "quantitative", "scale": {"domain": [63.8, 481.2], "nice": false, "zero": false}, "axis": null},
                      "text": {"field": "label"}}}
      ]
    },
    {
      "width": 323.4, "height": 229,
      "title": {"text": "(d) BT for 20 output neuron", "orient": "bottom", "offset": 25, "frame": "bounds"},
      "resolve": {"scale": {"x": "independent"}, "axis": {"x": "independent", "y": "independent"}},
      "layer": [
        {"data": {"values": [{}]}, "mark": {"type": "rule", "color": "#000000", "strokeWidth": 1.5},
         "encoding": {"x": {"datum": 0.61, "type": "quantitative", "scale": {"domain": [0.61, 75.02], "nice": false, "zero": false}, "axis": null},
                      "y": {"datum": 13.2, "type": "quantitative", "scale": {"domain": [13.2, 414.9], "nice": false, "zero": false}, "axis": null},
                      "y2": {"datum": 336.5}}},
        {"data": {"name": "d_hist"}, "mark": {"type": "line", "color": "#000000", "strokeWidth": 1.6},
         "encoding": {"x": {"field": "obs", "type": "quantitative", "scale": {"domain": [0.61, 75.02], "nice": false, "zero": false},
                            "axis": {"orient": "bottom", "values": [4,8,12,16,20,24,28,32,36,40,44,48,52,56,60,64,68,72], "labels": false, "ticks": true, "tickSize": -4, "title": null}},
                      "y": {"field": "faults", "type": "quantitative", "scale": {"domain": [13.2, 414.9], "nice": false, "zero": false},
                            "axis": {"orient": "left", "values": [50,100,150,200,250,300], "domain": false, "labelFontSize": 12.5, "title": "Software faults", "titleFontSize": 11.5, "titleX": -31.7, "titleY": 34.7}}}},
        {"data": {"name": "d_hist"}, "mark": {"type": "point", "shape": "circle", "size": 14, "filled": false, "stroke": "#8a8a8a", "strokeWidth": 0.8, "opacity": 1},
         "encoding": {"x": {"field": "obs", "type": "quantitative", "scale": {"domain": [0.61, 75.02], "nice": false, "zero": false}, "axis": null},
                      "y": {"field": "faults", "type": "quantitative", "scale": {"domain": [13.2, 414.9], "nice": false, "zero": false}, "axis": null}}},
        {"data": {"name": "d_cut"}, "mark": {"type": "rule", "color": "#ff1a1a", "strokeWidth": 1.6},
         "encoding": {"x": {"field": "obs", "type": "quantitative", "scale": {"domain": [0.61, 75.02], "nice": false, "zero": false}, "axis": null},
                      "y": {"field": "to", "type": "quantitative", "scale": {"domain": [13.2, 414.9], "nice": false, "zero": false}, "axis": null},
                      "y2": {"field": "from"}}},
        {"data": {"name": "d_cut"}, "mark": {"type": "text", "dx": -19, "dy": -5, "fontSize": 10.8},
         "encoding": {"x": {"field": "obs", "type": "quantitative", "scale": {"domain": [0.61, 75.02], "nice": false, "zero": false}, "axis": null},
                      "y": {"field": "to", "type": "quantitative", "scale": {"domain": [13.2, 414.9], "nice": false, "zero": false}, "axis": null},
                      "text": {"field": "label"}}},
        {"data": {"values": [{}]}, "mark": {"type": "point", "shape": "triangle-up", "filled": true, "color": "#000000", "size": 28, "opacity": 1},
         "encoding": {"x": {"datum": 0.61, "type": "quantitative", "scale": {"domain": [0.61, 75.02], "nice": false, "zero": false}, "axis": null},
                      "y": {"datum": 336.5, "type": "quantitative", "scale": {"domain": [13.2, 414.9], "nice": false, "zero": false}, "axis": null}}},
        {"data": {"values": [{}]}, "mark": {"type": "point", "shape": "triangle-right", "filled": true, "color": "#000000", "size": 28, "opacity": 1},
         "encoding": {"x": {"datum": 75.02, "type": "quantitative", "scale": {"domain": [0.61, 75.02], "nice": false, "zero": false}, "axis": null},
                      "y": {"datum": 13.2, "type": "quantitative", "scale": {"domain": [13.2, 414.9], "nice": false, "zero": false}, "axis": null}}},
        {"data": {"name": "d_fc"}, "transform": [{"filter": "isValid(datum.q1)"}], "mark": {"type": "rule", "color": "#000000", "strokeWidth": 1.6},
         "encoding": {"x": {"field": "day", "type": "quantitative", "scale": {"domain": [-10.16, 24.86], "nice": false, "zero": false},
                            "axis": {"orient": "bottom", "values": [5,10,15,20], "domain": false, "ticks": false, "labelFontSize": 12.5, "labelPadding": 2, "title": "Testing days", "titleFontSize": 10.6, "titleX": 327.4, "titleY": 0.7}},
                      "y": {"field": "lo", "type": "quantitative", "scale": {"domain": [13.2, 414.9], "nice": false, "zero": false}, "axis": null},
                      "y2": {"field": "hi"}}},
        {"data": {"name": "d_fc"}, "transform": [{"filter": "isValid(datum.q1)"}], "mark": {"type": "tick", "orient": "horizontal", "color": "#000000", "thickness": 1.6, "size": 11, "opacity": 1},
         "encoding": {"x": {"field": "day", "type": "quantitative", "scale": {"domain": [-10.16, 24.86], "nice": false, "zero": false}, "axis": null},
                      "y": {"field": "hi", "type": "quantitative", "scale": {"domain": [13.2, 414.9], "nice": false, "zero": false}, "axis": null}}},
        {"data": {"name": "d_fc"}, "transform": [{"filter": "isValid(datum.q1)"}], "mark": {"type": "tick", "orient": "horizontal", "color": "#000000", "thickness": 1.6, "size": 11, "opacity": 1},
         "encoding": {"x": {"field": "day", "type": "quantitative", "scale": {"domain": [-10.16, 24.86], "nice": false, "zero": false}, "axis": null},
                      "y": {"field": "lo", "type": "quantitative", "scale": {"domain": [13.2, 414.9], "nice": false, "zero": false}, "axis": null}}},
        {"data": {"name": "d_fc"}, "transform": [{"filter": "isValid(datum.q1)"}], "mark": {"type": "bar", "size": 24, "color": "#ccd1f5", "stroke": "#ffffff", "strokeWidth": 0.8, "opacity": 1},
         "encoding": {"x": {"field": "day", "type": "quantitative", "scale": {"domain": [-10.16, 24.86], "nice": false, "zero": false}, "axis": null},
                      "y": {"field": "q1", "type": "quantitative", "scale": {"domain": [13.2, 414.9], "nice": false, "zero": false}, "axis": null},
                      "y2": {"field": "q3"}}},
        {"data": {"name": "d_fc"}, "transform": [{"filter": "isValid(datum.q1)"}], "mark": {"type": "tick", "orient": "horizontal", "color": "#ffffff", "thickness": 1.2, "size": 24, "opacity": 1},
         "encoding": {"x": {"field": "day", "type": "quantitative", "scale": {"domain": [-10.16, 24.86], "nice": false, "zero": false}, "axis": null},
                      "y": {"field": "med", "type": "quantitative", "scale": {"domain": [13.2, 414.9], "nice": false, "zero": false}, "axis": null}}},
        {"data": {"name": "d_fc"}, "mark": {"type": "line", "strokeWidth": 1.6},
         "encoding": {"x": {"field": "day", "type": "quantitative", "scale": {"domain": [-10.16, 24.86], "nice": false, "zero": false}, "axis": null},
                      "y": {"field": "real", "type": "quantitative", "scale": {"domain": [13.2, 414.9], "nice": false, "zero": false}, "axis": null},
                      "color": {"datum": "Real value", "scale": {"domain": ["Real value", "Point Prediction"], "range": ["#000000", "#22b14c"]},
                                "legend": {"orient": "none", "legendX": 307.4, "legendY": 59.9, "title": null, "symbolType": "M-3.5,0H3.5", "symbolSize": 120, "symbolStrokeWidth": 1.6, "labelFontSize": 10.8, "labelOffset": 21.4, "rowPadding": 2}}}},
        {"data": {"name": "d_fc"}, "transform": [{"filter": "isValid(datum.q1)"}], "mark": {"type": "line", "strokeWidth": 1.6},
         "encoding": {"x": {"field": "day", "type": "quantitative", "scale": {"domain": [-10.16, 24.86], "nice": false, "zero": false}, "axis": null},
                      "y": {"field": "pred", "type": "quantitative", "scale": {"domain": [13.2, 414.9], "nice": false, "zero": false}, "axis": null},
                      "color": {"datum": "Point Prediction", "scale": {"domain": ["Real value", "Point Prediction"], "range": ["#000000", "#22b14c"]},
                                "legend": {"orient": "none", "legendX": 307.4, "legendY": 59.9, "title": null, "symbolType": "M-3.5,0H3.5", "symbolSize": 120, "symbolStrokeWidth": 1.6, "labelFontSize": 10.8, "labelOffset": 21.4, "rowPadding": 2}}}},
        {"data": {"name": "d_fc"}, "transform": [{"filter": "isValid(datum.q1)"}], "mark": {"type": "point", "filled": true, "fill": "#ffffff", "stroke": "#333333", "strokeWidth": 1, "size": 14, "opacity": 1},
         "encoding": {"x": {"field": "day", "type": "quantitative", "scale": {"domain": [-10.16, 24.86], "nice": false, "zero": false}, "axis": null},
                      "y": {"field": "real", "type": "quantitative", "scale": {"domain": [13.2, 414.9], "nice": false, "zero": false}, "axis": null}}},
        {"data": {"name": "d_fc"}, "transform": [{"filter": "isValid(datum.q1)"}], "mark": {"type": "point", "filled": true, "color": "#22b14c", "size": 10, "opacity": 1},
         "encoding": {"x": {"field": "day", "type": "quantitative", "scale": {"domain": [-10.16, 24.86], "nice": false, "zero": false}, "axis": null},
                      "y": {"field": "pred", "type": "quantitative", "scale": {"domain": [13.2, 414.9], "nice": false, "zero": false}, "axis": null}}},
        {"data": {"name": "d_note"}, "mark": {"type": "rule", "color": "#000000", "strokeWidth": 1.2},
         "encoding": {"x": {"field": "ax", "type": "quantitative", "scale": {"domain": [-10.16, 24.86], "nice": false, "zero": false}, "axis": null},
                      "y": {"field": "ay", "type": "quantitative", "scale": {"domain": [13.2, 414.9], "nice": false, "zero": false}, "axis": null},
                      "x2": {"field": "bx"}, "y2": {"field": "by"}}},
        {"data": {"name": "d_note"}, "transform": [{"filter": "datum.label === 'Upper Limit'"}], "mark": {"type": "point", "shape": "triangle-up", "angle": 131, "filled": true, "color": "#000000", "size": 20, "opacity": 1},
         "encoding": {"x": {"field": "bx", "type": "quantitative", "scale": {"domain": [-10.16, 24.86], "nice": false, "zero": false}, "axis": null},
                      "y": {"field": "by", "type": "quantitative", "scale": {"domain": [13.2, 414.9], "nice": false, "zero": false}, "axis": null}}},
        {"data": {"name": "d_note"}, "transform": [{"filter": "datum.label === 'Lower Limit'"}], "mark": {"type": "point", "shape": "triangle-up", "angle": 313, "filled": true, "color": "#000000", "size": 20, "opacity": 1},
         "encoding": {"x": {"field": "bx", "type": "quantitative", "scale": {"domain": [-10.16, 24.86], "nice": false, "zero": false}, "axis": null},
                      "y": {"field": "by", "type": "quantitative", "scale": {"domain": [13.2, 414.9], "nice": false, "zero": false}, "axis": null}}},
        {"data": {"name": "d_note"}, "mark": {"type": "text", "fontSize": 11.2},
         "encoding": {"x": {"field": "tx", "type": "quantitative", "scale": {"domain": [-10.16, 24.86], "nice": false, "zero": false}, "axis": null},
                      "y": {"field": "ty", "type": "quantitative", "scale": {"domain": [13.2, 414.9], "nice": false, "zero": false}, "axis": null},
                      "text": {"field": "label"}}}
      ]
    },
    {
      "width": 289.4, "height": 189,
      "title": {"text": "(e) BoxCox for 20 output neuron", "orient": "bottom", "offset": 28, "frame": "bounds"},
      "resolve": {"scale": {"x": "independent"}, "axis": {"x": "independent", "y": "independent"}},
      "layer": [
        {"data": {"values": [{}]}, "mark": {"type": "rule", "color": "#000000", "strokeWidth": 1.5},
         "encoding": {"x": {"datum": 0.78, "type": "quantitative", "scale": {"domain": [0.78, 64.62], "nice": false, "zero": false}, "axis": null},
                      "y": {"datum": 64.3, "type": "quantitative", "scale": {"domain": [64.3, 401.8], "nice": false, "zero": false}, "axis": null},
                      "y2": {"datum": 398.8}}},
        {"data": {"name": "e_hist"}, "mark": {"type": "line", "color": "#000000", "strokeWidth": 1.6},
         "encoding": {"x": {"field": "obs", "type": "quantitative", "scale": {"domain": [0.78, 64.62], "nice": false, "zero": false},
                            "axis": {"orient": "bottom", "values": [4,8,12,16,20,24,28,32,36,40,44,48,52,56,60,64], "labels": false, "ticks": true, "tickSize": -4, "title": null}},
                      "y": {"field": "faults", "type": "quantitative", "scale": {"domain": [64.3, 401.8], "nice": false, "zero": false},
                            "axis": {"orient": "left", "values": [100,150,200,250,300,350], "domain": false, "labelFontSize": 12, "title": "Software faults", "titleFontSize": 11.5, "titleX": -31.7, "titleY": -7.3}}}},
        {"data": {"name": "e_hist"}, "mark": {"type": "point", "shape": "circle", "size": 14, "filled": false, "stroke": "#8a8a8a", "strokeWidth": 0.8, "opacity": 1},
         "encoding": {"x": {"field": "obs", "type": "quantitative", "scale": {"domain": [0.78, 64.62], "nice": false, "zero": false}, "axis": null},
                      "y": {"field": "faults", "type": "quantitative", "scale": {"domain": [64.3, 401.8], "nice": false, "zero": false}, "axis": null}}},
        {"data": {"name": "e_cut"}, "mark": {"type": "rule", "color": "#ff1a1a", "strokeWidth": 1.6},
         "encoding": {"x": {"field": "obs", "type": "quantitative", "scale": {"domain": [0.78, 64.62], "nice": false, "zero": false}, "axis": null},
                      "y": {"field": "to", "type": "quantitative", "scale": {"domain": [64.3, 401.8], "nice": false, "zero": false}, "axis": null},
                      "y2": {"field": "from"}}},
        {"data": {"name": "e_cut"}, "mark": {"type": "text", "dx": -18, "dy": -7, "fontSize": 10.8},
         "encoding": {"x": {"field": "obs", "type": "quantitative", "scale": {"domain": [0.78, 64.62], "nice": false, "zero": false}, "axis": null},
                      "y": {"field": "to", "type": "quantitative", "scale": {"domain": [64.3, 401.8], "nice": false, "zero": false}, "axis": null},
                      "text": {"field": "label"}}},
        {"data": {"values": [{}]}, "mark": {"type": "point", "shape": "triangle-up", "filled": true, "color": "#000000", "size": 28, "opacity": 1},
         "encoding": {"x": {"datum": 0.78, "type": "quantitative", "scale": {"domain": [0.78, 64.62], "nice": false, "zero": false}, "axis": null},
                      "y": {"datum": 398.8, "type": "quantitative", "scale": {"domain": [64.3, 401.8], "nice": false, "zero": false}, "axis": null}}},
        {"data": {"values": [{}]}, "mark": {"type": "point", "shape": "triangle-right", "filled": true, "color": "#000000", "size": 28, "opacity": 1},
         "encoding": {"x": {"datum": 64.62, "type": "quantitative", "scale": {"domain": [0.78, 64.62], "nice": false, "zero": false}, "axis": null},
                      "y": {"datum": 64.3, "type": "quantitative", "scale": {"domain": [64.3, 401.8], "nice": false, "zero": false}, "axis": null}}},
        {"data": {"name": "e_fc"}, "transform": [{"filter": "isValid(datum.q1)"}], "mark": {"type": "rule", "color": "#000000", "strokeWidth": 1.6},
         "encoding": {"x": {"field": "day", "type": "quantitative", "scale": {"domain": [-10.77, 21.1], "nice": false, "zero": false},
                            "axis": {"orient": "bottom", "values": [5,10,15,20], "domain": false, "ticks": false, "labelFontSize": 12.5, "labelPadding": 5, "title": "Testing days", "titleFontSize": 10.6, "titleX": 295, "titleY": 0}},
                      "y": {"field": "lo", "type": "quantitative", "scale": {"domain": [64.3, 401.8], "nice": false, "zero": false}, "axis": null},
                      "y2": {"field": "hi"}}},
        {"data": {"name": "e_fc"}, "transform": [{"filter": "isValid(datum.q1)"}], "mark": {"type": "tick", "orient": "horizontal", "color": "#000000", "thickness": 1.6, "size": 11, "opacity": 1},
         "encoding": {"x": {"field": "day", "type": "quantitative", "scale": {"domain": [-10.77, 21.1], "nice": false, "zero": false}, "axis": null},
                      "y": {"field": "hi", "type": "quantitative", "scale": {"domain": [64.3, 401.8], "nice": false, "zero": false}, "axis": null}}},
        {"data": {"name": "e_fc"}, "transform": [{"filter": "isValid(datum.q1)"}], "mark": {"type": "tick", "orient": "horizontal", "color": "#000000", "thickness": 1.6, "size": 11, "opacity": 1},
         "encoding": {"x": {"field": "day", "type": "quantitative", "scale": {"domain": [-10.77, 21.1], "nice": false, "zero": false}, "axis": null},
                      "y": {"field": "lo", "type": "quantitative", "scale": {"domain": [64.3, 401.8], "nice": false, "zero": false}, "axis": null}}},
        {"data": {"name": "e_fc"}, "transform": [{"filter": "isValid(datum.q1)"}], "mark": {"type": "bar", "size": 24.3, "color": "#ccd1f5", "stroke": "#ffffff", "strokeWidth": 0.8, "opacity": 1},
         "encoding": {"x": {"field": "day", "type": "quantitative", "scale": {"domain": [-10.77, 21.1], "nice": false, "zero": false}, "axis": null},
                      "y": {"field": "q1", "type": "quantitative", "scale": {"domain": [64.3, 401.8], "nice": false, "zero": false}, "axis": null},
                      "y2": {"field": "q3"}}},
        {"data": {"name": "e_fc"}, "transform": [{"filter": "isValid(datum.q1)"}], "mark": {"type": "tick", "orient": "horizontal", "color": "#ffffff", "thickness": 1.2, "size": 24.3, "opacity": 1},
         "encoding": {"x": {"field": "day", "type": "quantitative", "scale": {"domain": [-10.77, 21.1], "nice": false, "zero": false}, "axis": null},
                      "y": {"field": "med", "type": "quantitative", "scale": {"domain": [64.3, 401.8], "nice": false, "zero": false}, "axis": null}}},
        {"data": {"name": "e_fc"}, "mark": {"type": "line", "strokeWidth": 1.6},
         "encoding": {"x": {"field": "day", "type": "quantitative", "scale": {"domain": [-10.77, 21.1], "nice": false, "zero": false}, "axis": null},
                      "y": {"field": "real", "type": "quantitative", "scale": {"domain": [64.3, 401.8], "nice": false, "zero": false}, "axis": null},
                      "color": {"datum": "Real value", "scale": {"domain": ["Real value", "Point Prediction"], "range": ["#000000", "#22b14c"]},
                                "legend": {"orient": "none", "legendX": 309.8, "legendY": 21.3, "title": null, "symbolType": "M-3.5,0H3.5", "symbolSize": 115, "symbolStrokeWidth": 1.6, "labelFontSize": 11.2, "labelOffset": 20.8, "rowPadding": 2}}}},
        {"data": {"name": "e_fc"}, "transform": [{"filter": "isValid(datum.q1)"}], "mark": {"type": "line", "strokeWidth": 1.6},
         "encoding": {"x": {"field": "day", "type": "quantitative", "scale": {"domain": [-10.77, 21.1], "nice": false, "zero": false}, "axis": null},
                      "y": {"field": "pred", "type": "quantitative", "scale": {"domain": [64.3, 401.8], "nice": false, "zero": false}, "axis": null},
                      "color": {"datum": "Point Prediction", "scale": {"domain": ["Real value", "Point Prediction"], "range": ["#000000", "#22b14c"]},
                                "legend": {"orient": "none", "legendX": 309.8, "legendY": 21.3, "title": null, "symbolType": "M-3.5,0H3.5", "symbolSize": 115, "symbolStrokeWidth": 1.6, "labelFontSize": 11.2, "labelOffset": 20.8, "rowPadding": 2}}}},
        {"data": {"name": "e_fc"}, "transform": [{"filter": "isValid(datum.q1)"}], "mark": {"type": "point", "filled": true, "fill": "#ffffff", "stroke": "#333333", "strokeWidth": 1, "size": 14, "opacity": 1},
         "encoding": {"x": {"field": "day", "type": "quantitative", "scale": {"domain": [-10.77, 21.1], "nice": false, "zero": false}, "axis": null},
                      "y": {"field": "real", "type": "quantitative", "scale": {"domain": [64.3, 401.8], "nice": false, "zero": false}, "axis": null}}},
        {"data": {"name": "e_fc"}, "transform": [{"filter": "isValid(datum.q1)"}], "mark": {"type": "point", "filled": true, "color": "#22b14c", "size": 10, "opacity": 1},
         "encoding": {"x": {"field": "day", "type": "quantitative", "scale": {"domain": [-10.77, 21.1], "nice": false, "zero": false}, "axis": null},
                      "y": {"field": "pred", "type": "quantitative", "scale": {"domain": [64.3, 401.8], "nice": false, "zero": false}, "axis": null}}},
        {"data": {"name": "e_note"}, "mark": {"type": "rule", "color": "#000000", "strokeWidth": 1.2},
         "encoding": {"x": {"field": "ax", "type": "quantitative", "scale": {"domain": [-10.77, 21.1], "nice": false, "zero": false}, "axis": null},
                      "y": {"field": "ay", "type": "quantitative", "scale": {"domain": [64.3, 401.8], "nice": false, "zero": false}, "axis": null},
                      "x2": {"field": "bx"}, "y2": {"field": "by"}}},
        {"data": {"name": "e_note"}, "transform": [{"filter": "datum.label === 'Upper Limit'"}], "mark": {"type": "point", "shape": "triangle-up", "angle": 165, "filled": true, "color": "#000000", "size": 20, "opacity": 1},
         "encoding": {"x": {"field": "bx", "type": "quantitative", "scale": {"domain": [-10.77, 21.1], "nice": false, "zero": false}, "axis": null},
                      "y": {"field": "by", "type": "quantitative", "scale": {"domain": [64.3, 401.8], "nice": false, "zero": false}, "axis": null}}},
        {"data": {"name": "e_note"}, "transform": [{"filter": "datum.label === 'Lower Limit'"}], "mark": {"type": "point", "shape": "triangle-up", "angle": 314, "filled": true, "color": "#000000", "size": 20, "opacity": 1},
         "encoding": {"x": {"field": "bx", "type": "quantitative", "scale": {"domain": [-10.77, 21.1], "nice": false, "zero": false}, "axis": null},
                      "y": {"field": "by", "type": "quantitative", "scale": {"domain": [64.3, 401.8], "nice": false, "zero": false}, "axis": null}}},
        {"data": {"name": "e_note"}, "mark": {"type": "text", "fontSize": 11.2},
         "encoding": {"x": {"field": "tx", "type": "quantitative", "scale": {"domain": [-10.77, 21.1], "nice": false, "zero": false}, "axis": null},
                      "y": {"field": "ty", "type": "quantitative", "scale": {"domain": [64.3, 401.8], "nice": false, "zero": false}, "axis": null},
                      "text": {"field": "label"}}}
      ]
    },
    {
      "width": 290.7, "height": 190,
      "title": {"text": "(f) Normal for 20 output neuron", "orient": "bottom", "offset": 27, "frame": "bounds"},
      "resolve": {"scale": {"x": "independent"}, "axis": {"x": "independent", "y": "independent"}},
      "layer": [
        {"data": {"values": [{}]}, "mark": {"type": "rule", "color": "#000000", "strokeWidth": 1.5},
         "encoding": {"x": {"datum": 1, "type": "quantitative", "scale": {"domain": [1, 68.6], "nice": false, "zero": false}, "axis": null},
                      "y": {"datum": 5.9, "type": "quantitative", "scale": {"domain": [5.9, 140.1], "nice": false, "zero": false}, "axis": null},
                      "y2": {"datum": 140.1}}},
        {"data": {"name": "f_hist"}, "mark": {"type": "line", "color": "#000000", "strokeWidth": 1.6},
         "encoding": {"x": {"field": "obs", "type": "quantitative", "scale": {"domain": [1, 68.6], "nice": false, "zero": false},
                            "axis": {"orient": "bottom", "values": [4,8,12,16,20,24,28,32,36,40,44,48,52,56,60,64,68], "labels": false, "ticks": true, "tickSize": -4, "title": null}},
                      "y": {"field": "faults", "type": "quantitative", "scale": {"domain": [5.9, 140.1], "nice": false, "zero": false},
                            "axis": {"orient": "left", "values": [20,40,60,80,100,120], "domain": false, "labelFontSize": 12, "title": "Software faults", "titleFontSize": 11.5, "titleX": -30.3, "titleY": -15}}}},
        {"data": {"name": "f_hist"}, "mark": {"type": "point", "shape": "circle", "size": 14, "filled": false, "stroke": "#8a8a8a", "strokeWidth": 0.8, "opacity": 1},
         "encoding": {"x": {"field": "obs", "type": "quantitative", "scale": {"domain": [1, 68.6], "nice": false, "zero": false}, "axis": null},
                      "y": {"field": "faults", "type": "quantitative", "scale": {"domain": [5.9, 140.1], "nice": false, "zero": false}, "axis": null}}},
        {"data": {"name": "f_cut"}, "mark": {"type": "rule", "color": "#ff1a1a", "strokeWidth": 1.6},
         "encoding": {"x": {"field": "obs", "type": "quantitative", "scale": {"domain": [1, 68.6], "nice": false, "zero": false}, "axis": null},
                      "y": {"field": "to", "type": "quantitative", "scale": {"domain": [5.9, 140.1], "nice": false, "zero": false}, "axis": null},
                      "y2": {"field": "from"}}},
        {"data": {"name": "f_cut"}, "mark": {"type": "text", "dx": -18, "dy": -7, "fontSize": 10.8},
         "encoding": {"x": {"field": "obs", "type": "quantitative", "scale": {"domain": [1, 68.6], "nice": false, "zero": false}, "axis": null},
                      "y": {"field": "to", "type": "quantitative", "scale": {"domain": [5.9, 140.1], "nice": false, "zero": false}, "axis": null},
                      "text": {"field": "label"}}},
        {"data": {"values": [{}]}, "mark": {"type": "point", "shape": "triangle-up", "filled": true, "color": "#000000", "size": 28, "opacity": 1},
         "encoding": {"x": {"datum": 1, "type": "quantitative", "scale": {"domain": [1, 68.6], "nice": false, "zero": false}, "axis": null},
                      "y": {"datum": 140.1, "type": "quantitative", "scale": {"domain": [5.9, 140.1], "nice": false, "zero": false}, "axis": null}}},
        {"data": {"name": "f_fc"}, "transform": [{"filter": "isValid(datum.q1)"}], "mark": {"type": "rule", "color": "#000000", "strokeWidth": 1.6},
         "encoding": {"x": {"field": "day", "type": "quantitative", "scale": {"domain": [-10.63, 20.67], "nice": false, "zero": false},
                            "axis": {"orient": "bottom", "values": [5,10,15,20], "domain": false, "ticks": false, "labelFontSize": 12.5, "labelPadding": 5, "title": "Testing days", "titleFontSize": 10.6, "titleX": 305.7, "titleY": 1}},
                      "y": {"field": "lo", "type": "quantitative", "scale": {"domain": [5.9, 140.1], "nice": false, "zero": false}, "axis": null},
                      "y2": {"field": "hi"}}},
        {"data": {"name": "f_fc"}, "transform": [{"filter": "isValid(datum.q1)"}], "mark": {"type": "tick", "orient": "horizontal", "color": "#000000", "thickness": 1.6, "size": 11, "opacity": 1},
         "encoding": {"x": {"field": "day", "type": "quantitative", "scale": {"domain": [-10.63, 20.67], "nice": false, "zero": false}, "axis": null},
                      "y": {"field": "hi", "type": "quantitative", "scale": {"domain": [5.9, 140.1], "nice": false, "zero": false}, "axis": null}}},
        {"data": {"name": "f_fc"}, "transform": [{"filter": "isValid(datum.q1)"}], "mark": {"type": "tick", "orient": "horizontal", "color": "#000000", "thickness": 1.6, "size": 11, "opacity": 1},
         "encoding": {"x": {"field": "day", "type": "quantitative", "scale": {"domain": [-10.63, 20.67], "nice": false, "zero": false}, "axis": null},
                      "y": {"field": "lo", "type": "quantitative", "scale": {"domain": [5.9, 140.1], "nice": false, "zero": false}, "axis": null}}},
        {"data": {"name": "f_fc"}, "transform": [{"filter": "isValid(datum.q1)"}], "mark": {"type": "bar", "size": 24.5, "color": "#ccd1f5", "stroke": "#ffffff", "strokeWidth": 0.8, "opacity": 1},
         "encoding": {"x": {"field": "day", "type": "quantitative", "scale": {"domain": [-10.63, 20.67], "nice": false, "zero": false}, "axis": null},
                      "y": {"field": "q1", "type": "quantitative", "scale": {"domain": [5.9, 140.1], "nice": false, "zero": false}, "axis": null},
                      "y2": {"field": "q3"}}},
        {"data": {"name": "f_fc"}, "transform": [{"filter": "isValid(datum.q1)"}], "mark": {"type": "tick", "orient": "horizontal", "color": "#ffffff", "thickness": 1.2, "size": 24.5, "opacity": 1},
         "encoding": {"x": {"field": "day", "type": "quantitative", "scale": {"domain": [-10.63, 20.67], "nice": false, "zero": false}, "axis": null},
                      "y": {"field": "med", "type": "quantitative", "scale": {"domain": [5.9, 140.1], "nice": false, "zero": false}, "axis": null}}},
        {"data": {"name": "f_fc"}, "mark": {"type": "line", "strokeWidth": 1.6},
         "encoding": {"x": {"field": "day", "type": "quantitative", "scale": {"domain": [-10.63, 20.67], "nice": false, "zero": false}, "axis": null},
                      "y": {"field": "real", "type": "quantitative", "scale": {"domain": [5.9, 140.1], "nice": false, "zero": false}, "axis": null},
                      "color": {"datum": "Real value", "scale": {"domain": ["Real value", "Point Prediction"], "range": ["#000000", "#22b14c"]},
                                "legend": {"orient": "none", "legendX": 311.9, "legendY": 18, "title": null, "symbolType": "M-3.5,0H3.5", "symbolSize": 142, "symbolStrokeWidth": 1.6, "labelFontSize": 10.9, "labelOffset": 18.9, "rowPadding": 4}}}},
        {"data": {"name": "f_fc"}, "transform": [{"filter": "isValid(datum.q1)"}], "mark": {"type": "line", "strokeWidth": 1.6},
         "encoding": {"x": {"field": "day", "type": "quantitative", "scale": {"domain": [-10.63, 20.67], "nice": false, "zero": false}, "axis": null},
                      "y": {"field": "pred", "type": "quantitative", "scale": {"domain": [5.9, 140.1], "nice": false, "zero": false}, "axis": null},
                      "color": {"datum": "Point Prediction", "scale": {"domain": ["Real value", "Point Prediction"], "range": ["#000000", "#22b14c"]},
                                "legend": {"orient": "none", "legendX": 311.9, "legendY": 18, "title": null, "symbolType": "M-3.5,0H3.5", "symbolSize": 142, "symbolStrokeWidth": 1.6, "labelFontSize": 10.9, "labelOffset": 18.9, "rowPadding": 4}}}},
        {"data": {"name": "f_fc"}, "transform": [{"filter": "isValid(datum.q1)"}], "mark": {"type": "point", "filled": true, "fill": "#ffffff", "stroke": "#333333", "strokeWidth": 1, "size": 18, "opacity": 1},
         "encoding": {"x": {"field": "day", "type": "quantitative", "scale": {"domain": [-10.63, 20.67], "nice": false, "zero": false}, "axis": null},
                      "y": {"field": "real", "type": "quantitative", "scale": {"domain": [5.9, 140.1], "nice": false, "zero": false}, "axis": null}}},
        {"data": {"name": "f_fc"}, "transform": [{"filter": "isValid(datum.q1)"}], "mark": {"type": "point", "filled": true, "color": "#22b14c", "size": 18, "opacity": 1},
         "encoding": {"x": {"field": "day", "type": "quantitative", "scale": {"domain": [-10.63, 20.67], "nice": false, "zero": false}, "axis": null},
                      "y": {"field": "pred", "type": "quantitative", "scale": {"domain": [5.9, 140.1], "nice": false, "zero": false}, "axis": null}}},
        {"data": {"name": "f_note"}, "mark": {"type": "rule", "color": "#000000", "strokeWidth": 1.2},
         "encoding": {"x": {"field": "ax", "type": "quantitative", "scale": {"domain": [-10.63, 20.67], "nice": false, "zero": false}, "axis": null},
                      "y": {"field": "ay", "type": "quantitative", "scale": {"domain": [5.9, 140.1], "nice": false, "zero": false}, "axis": null},
                      "x2": {"field": "bx"}, "y2": {"field": "by"}}},
        {"data": {"name": "f_note"}, "transform": [{"filter": "datum.label === 'Upper Limit'"}], "mark": {"type": "point", "shape": "triangle-up", "angle": 204, "filled": true, "color": "#000000", "size": 20, "opacity": 1},
         "encoding": {"x": {"field": "bx", "type": "quantitative", "scale": {"domain": [-10.63, 20.67], "nice": false, "zero": false}, "axis": null},
                      "y": {"field": "by", "type": "quantitative", "scale": {"domain": [5.9, 140.1], "nice": false, "zero": false}, "axis": null}}},
        {"data": {"name": "f_note"}, "transform": [{"filter": "datum.label === 'Lower Limit'"}], "mark": {"type": "point", "shape": "triangle-up", "angle": 315, "filled": true, "color": "#000000", "size": 20, "opacity": 1},
         "encoding": {"x": {"field": "bx", "type": "quantitative", "scale": {"domain": [-10.63, 20.67], "nice": false, "zero": false}, "axis": null},
                      "y": {"field": "by", "type": "quantitative", "scale": {"domain": [5.9, 140.1], "nice": false, "zero": false}, "axis": null}}},
        {"data": {"name": "f_note"}, "mark": {"type": "text", "fontSize": 11.2},
         "encoding": {"x": {"field": "tx", "type": "quantitative", "scale": {"domain": [-10.63, 20.67], "nice": false, "zero": false}, "axis": null},
                      "y": {"field": "ty", "type": "quantitative", "scale": {"domain": [5.9, 140.1], "nice": false, "zero": false}, "axis": null},
                      "text": {"field": "label"}}}
      ]
    }
  ],
  "config": {
    "view": {"stroke": null},
    "font": "Lato",
    "axis": {"grid": false, "labelFont": "Lato", "titleFont": "Lato", "titleFontWeight": "normal", "labelColor": "#111111", "titleColor": "#111111", "domainColor": "#000000", "tickColor": "#222222", "domainWidth": 1.5, "tickWidth": 1},
    "axisY": {"ticks": false, "titleAngle": 0, "titleAlign": "left", "titleBaseline": "middle", "labelPadding": 3},
    "axisX": {"titleAngle": 0, "titleAlign": "left", "titleBaseline": "middle"},
    "legend": {"labelFont": "Lato", "labelColor": "#111111"},
    "text": {"font": "Lato", "color": "#111111"},
    "title": {"font": "DejaVu Serif", "fontSize": 21.8, "fontWeight": "normal", "color": "#111111"}
  }
}
